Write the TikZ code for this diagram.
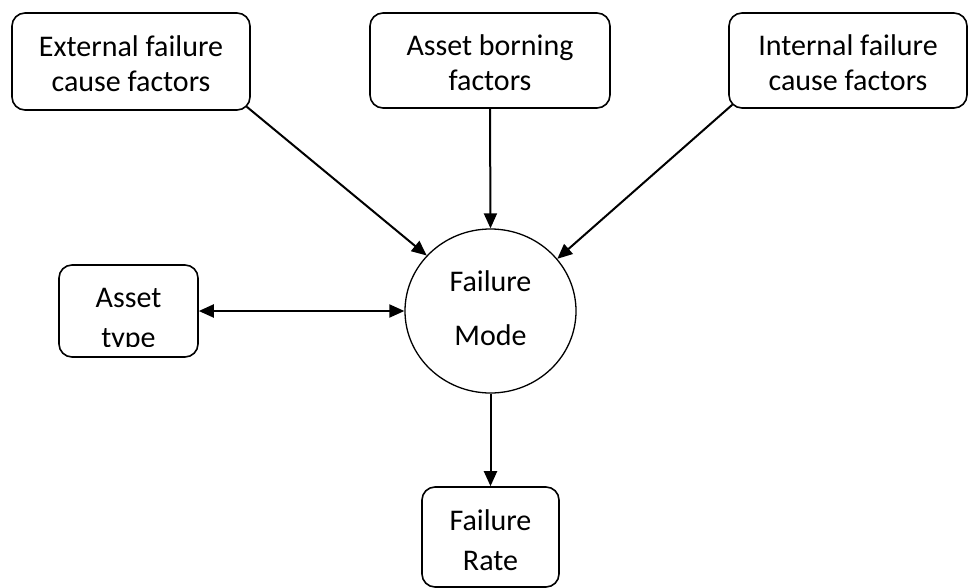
\documentclass[tikz,border=0pt]{standalone}
\usepackage{fontspec}
\setmainfont{Carlito}
\usetikzlibrary{arrows.meta,shapes.geometric,calc}
\begin{document}
\begin{tikzpicture}[x=1pt,y=-1pt,
  box/.style={draw,line width=1.6pt,rounded corners=13pt,align=center,
    font=\fontsize{30}{35}\selectfont,inner sep=0pt},
  txt/.style={align=center,font=\fontsize{30}{35}\selectfont,inner sep=0pt},
  arr/.style={line width=2pt,-{Triangle[length=15pt,width=13pt]}},
]
\useasboundingbox (0,0) rectangle (968,588);
% top boxes
\node[box,minimum width=238pt,minimum height=97pt] (ext) at (131,61.5) {};
\node[txt] (extt) at (131,64) {External failure\\cause factors};
\node[box,minimum width=240pt,minimum height=95pt] (asb) at (490,60.5) {};
\node[txt] (asbt) at (490,63) {Asset borning\\factors};
\node[box,minimum width=238pt,minimum height=95pt] (int) at (848,60.5) {};
\node[txt] (intt) at (848,63) {Internal failure\\cause factors};
% asset type
\node[box,minimum width=139pt,minimum height=92pt] (at) at (128.5,311) {};
\begin{scope}
  \clip (at.north west) rectangle ($(at.south east)+(0,-11)$);
  \node[txt] (att) at (128.5,320) {Asset\\[5pt]type};
\end{scope}
% failure mode
\node[draw,ellipse,line width=1.3pt,minimum width=171pt,minimum height=164pt,inner sep=0pt] (fm) at (490.5,311) {};
\node[txt] (fmt) at (490.5,308) {Failure\\[19pt]Mode};
% failure rate
\node[box,minimum width=137pt,minimum height=100pt] (fr) at (490.5,537) {};
\node[txt] (frt) at (490.5,540) {Failure\\[5pt]Rate};
% connectors
\draw[arr] ($(ext.south east)+(-4,-4)$) -- (fm.139);
\draw[arr] (asb.south) -- (fm.north);
\draw[arr] ($(int.south west)+(4,-4)$) -- (fm.38);
\draw[line width=2pt,{Triangle[length=15pt,width=13pt]}-{Triangle[length=15pt,width=13pt]}] (at.east) -- (fm.west);
\draw[arr] (fm.south) -- (fr.north);
\end{tikzpicture}
\end{document}
